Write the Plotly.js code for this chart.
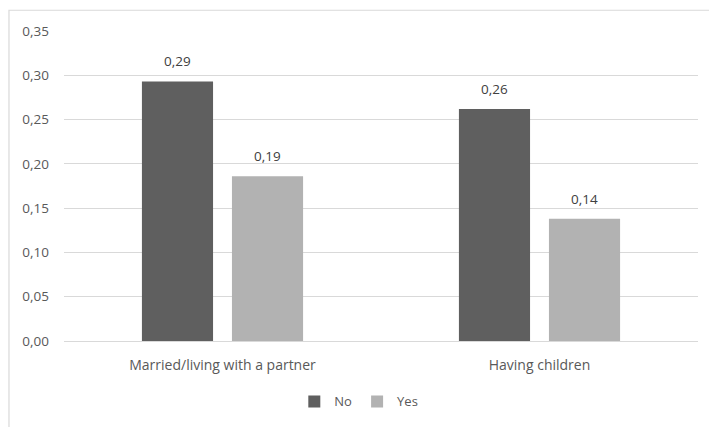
<!DOCTYPE html>
<html>
<head>
<meta charset="utf-8">
<script src="https://cdn.plot.ly/plotly-3.0.1.min.js"></script>
<style>html,body{margin:0;padding:0;background:#fff;}#chart{width:709px;height:427px;}</style>
</head>
<body>
<div id="chart"></div>
<script>
const categories = ["Married/living with a partner", "Having children"];
const noValues = [0.293, 0.262];
const yesValues = [0.186, 0.138];
const seriesNames = ["No", "Yes"];
const yTicks = [0, 0.05, 0.10, 0.15, 0.20, 0.25, 0.30, 0.35];

const fam = "Open Sans, Noto Sans, sans-serif";
const textCol = "#595959";

const traces = [
  {type: "bar", name: seriesNames[0], x: categories, y: noValues,
   marker: {color: "#5f5f5f"}, hoverinfo: "none"},
  {type: "bar", name: seriesNames[1], x: categories, y: yesValues,
   marker: {color: "#b2b2b2"}, hoverinfo: "none"}
];

// data labels placed above each bar, derived from the data arrays
const fmt = v => v.toFixed(2).replace(".", ",");
const annotations = [];
categories.forEach((c, i) => {
  [[noValues, -45], [yesValues, 45]].forEach(([arr, dx]) => {
    annotations.push({x: c, y: arr[i], xref: "x", yref: "y", text: fmt(arr[i]),
      showarrow: false, xshift: dx, yshift: 9, yanchor: "bottom",
      font: {family: fam, size: 13.5, color: "#404040"}});
  });
});

const layout = {
  width: 709, height: 427,
  margin: {l: 64, r: 11, t: 31, b: 83},
  paper_bgcolor: "#fff", plot_bgcolor: "#fff",
  separators: ", ",
  font: {family: fam, size: 13, color: textCol},
  barmode: "group",
  bargap: 0.432,
  bargroupgap: 0.21,
  showlegend: true,
  legend: {orientation: "h", x: 0.465, xanchor: "center", y: -0.195, yanchor: "middle",
           font: {family: fam, size: 13, color: textCol}, itemwidth: 30, tracegroupgap: 0},
  xaxis: {type: "category", showgrid: false, showline: false, zeroline: false, ticks: "",
          tickfont: {family: fam, size: 14, color: textCol}, ticklabelstandoff: 14},
  yaxis: {range: [0, 0.35], tickvals: yTicks, tickformat: ".2f", showgrid: true,
          gridcolor: "#d9d9d9", gridwidth: 1, zeroline: true, zerolinecolor: "#d9d9d9", zerolinewidth: 1,
          showline: false, ticks: "", ticklabelstandoff: 14,
          tickfont: {family: fam, size: 13.5, color: textCol}},
  annotations: annotations,
  shapes: [
    {type: "rect", xref: "paper", yref: "paper", x0: -0.0868, x1: 1.2, y0: -0.5, y1: 1.067,
     line: {color: "#d9d9d9", width: 1.2}, fillcolor: "rgba(0,0,0,0)", layer: "below"}
  ]
};

Plotly.newPlot("chart", traces, layout, {displayModeBar: false, staticPlot: true});
</script>
</body>
</html>
